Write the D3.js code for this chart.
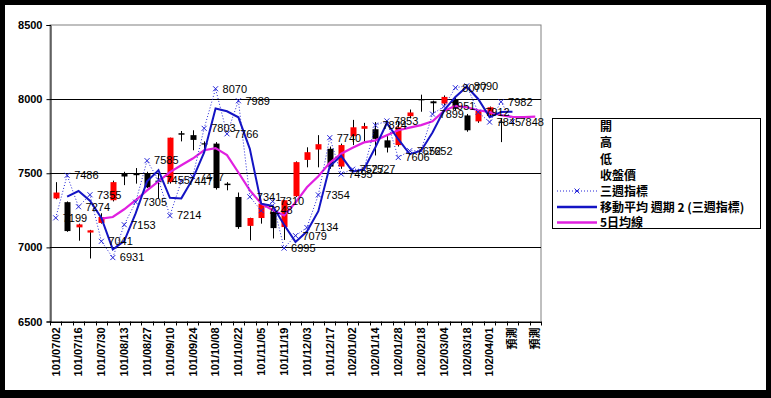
<!DOCTYPE html>
<html>
<head>
<meta charset="utf-8">
<script src="https://cdn.jsdelivr.net/npm/d3@7"></script>
<style>
body { margin:0; background:#000; }
text { font-family: "Liberation Sans", Arial, sans-serif; }
.lg { font-family: "Noto Sans CJK TC", "Noto Sans CJK SC", sans-serif; font-size:12px; }
</style>
</head>
<body>
<div id="chart"></div>
<script>
var categories = ["101/07/02","101/07/09","101/07/16","101/07/23","101/07/30","101/08/06","101/08/13","101/08/20","101/08/27","101/09/03",
  "101/09/10","101/09/17","101/09/24","101/10/01","101/10/08","101/10/15","101/10/22","101/10/29","101/11/05","101/11/12",
  "101/11/19","101/11/26","101/12/03","101/12/10","101/12/17","101/12/24","102/01/02","102/01/07","102/01/14","102/01/21",
  "102/01/28","102/02/04","102/02/18","102/02/25","102/03/04","102/03/11","102/03/18","102/03/25","102/04/01","102/04/08",
  "預測","預測","預測"];

var openV  = [7330,7305,7135,7100,7165,7318,7495,7495,7500,7450,7440,7770,7757,7702,7700,7430,7340,7145,7198,7240,
  7137,7345,7590,7660,7665,7545,7750,7800,7797,7722,7690,7885,8000,7985,7970,8000,7890,7850,7895,7848];
var highV  = [7440,7310,7160,7118,7230,7450,7510,7535,7510,7500,7740,7785,7790,7715,7710,7440,7370,7200,7305,7250,
  7320,7580,7675,7757,7680,7700,7860,7840,7845,7750,7850,7930,8030,7990,8025,8010,7900,7925,7950,7870];
var lowV   = [7325,7105,7045,6925,7160,7310,7420,7430,7400,7330,7430,7715,7655,7665,7390,7385,7125,7047,7160,7060,
  7050,7340,7540,7540,7530,7530,7690,7712,7620,7640,7680,7870,7915,7905,7960,7925,7780,7840,7880,7710];
var closeV = [7370,7110,7155,7115,7205,7440,7478,7493,7405,7445,7740,7760,7725,7698,7400,7420,7137,7198,7295,7130,
  7318,7575,7642,7696,7545,7690,7810,7818,7732,7673,7810,7910,7998,7972,8015,7935,7790,7920,7945,7845];

// 三週指標
var weekIdx = [7199,7486,7274,7355,7041,6931,7153,7305,7585,7455,7214,7447,7477,7803,8070,7766,7989,7341,7248,7310,
  6995,7079,7134,7354,7740,7495,7527,7527,7824,7853,7606,7652,7652,7899,7951,8077,8090,7912,7845,7982,7848];
// 移動平均 週期 2 (三週指標)
var ma2 = [null,7342.5,7380,7314.5,7198,6986,7042,7229,7445,7520,7334.5,7330.5,7462,7640,7936.5,7918,7877.5,7665,7294.5,7279,
  7152.5,7037,7106.5,7244,7547,7617.5,7511,7527,7675.5,7838.5,7729.5,7629,7652,7775.5,7925,8014,8083.5,8001,7878.5,7913.5,7915];
// 5日均線
var ma5 = [null,null,null,null,7194,7205,7257,7318,7385,7445,7508,7554,7599,7655,7670,7622,7505,7385,7295,7252,
  7215,7302,7405,7480,7570,7632,7672,7708,7722,7757,7790,7808,7825,7850,7920,7955,7945,7925,7912,7892,7880,7878,7882];

var yTicks = [6500,7000,7500,8000,8500];
var legendNames = ["開","高","低","收盤價","三週指標","移動平均  週期 2 (三週指標)","5日均線"];

var w = 771, h = 398;
var plot = {left:50, right:541, top:25, bottom:321.5};

var svg = d3.select("#chart").append("svg")
  .attr("width", w).attr("height", h);

svg.append("rect").attr("width", w).attr("height", h).attr("fill", "#000");
svg.append("rect").attr("x", 5).attr("y", 5).attr("width", 761).attr("height", 385).attr("fill", "#fff");

var x = d3.scaleBand()
  .domain(d3.range(categories.length))
  .range([plot.left, plot.right]);
var bw = x.bandwidth();
var cx = function(i){ return x(i) + bw/2; };

var y = d3.scaleLinear()
  .domain([6500, 8500])
  .range([plot.bottom, plot.top]);

// plot frame + grid
svg.append("rect")
  .attr("x", plot.left).attr("y", plot.top)
  .attr("width", plot.right - plot.left).attr("height", plot.bottom - plot.top)
  .attr("fill", "none").attr("stroke", "#808080");

svg.append("g")
  .selectAll("line")
  .data(yTicks.slice(1, 4))
  .enter()
  .append("line")
  .attr("x1", plot.left).attr("x2", plot.right)
  .attr("y1", function(d){ return Math.round(y(d)) + 0.5; })
  .attr("y2", function(d){ return Math.round(y(d)) + 0.5; })
  .attr("stroke", "#000");

// y axis
var yAxis = d3.axisLeft(y).tickValues(yTicks).tickSize(4).tickPadding(4).tickFormat(d3.format("d"));
var yg = svg.append("g")
  .attr("transform", "translate(" + (plot.left + 0.5) + ",0)")
  .call(yAxis);
yg.selectAll("text").style("font-size", "11px").attr("fill", "#000")
  .attr("font-family", "Liberation Sans").style("font-weight", "bold");

// x axis
var xAxis = d3.axisBottom(x).tickSize(0).tickFormat("");
var xg = svg.append("g")
  .attr("transform", "translate(0," + (plot.bottom + 0.5) + ")")
  .call(xAxis);
xg.select(".domain").attr("stroke", "#000");

var bounds = d3.range(categories.length + 1).map(function(i){
  return i < categories.length ? x(i) : plot.right;
});
svg.append("g")
  .selectAll("line")
  .data(bounds)
  .enter()
  .append("line")
  .attr("x1", function(d){ return Math.round(d) + 0.5; })
  .attr("x2", function(d){ return Math.round(d) + 0.5; })
  .attr("y1", plot.bottom).attr("y2", plot.bottom + 4)
  .attr("stroke", "#000");

svg.append("g")
  .selectAll("text")
  .data(d3.range(0, categories.length, 2))
  .enter()
  .append("text")
  .attr("transform", function(i){ return "translate(" + cx(i) + "," + (plot.bottom + 6) + ") rotate(-90)"; })
  .attr("text-anchor", "end")
  .attr("dy", "0.35em")
  .style("font-size", "11px")
  .style("font-weight", "bold")
  .style("font-family", function(i){ return categories[i] == "預測" ? "Noto Sans CJK TC" : "Liberation Sans"; })
  .text(function(i){ return categories[i]; });

// candlesticks
var candles = svg.append("g");
candles.selectAll("line")
  .data(d3.range(openV.length))
  .enter()
  .append("line")
  .attr("x1", function(i){ return Math.round(cx(i)) + 0.5; })
  .attr("x2", function(i){ return Math.round(cx(i)) + 0.5; })
  .attr("y1", function(i){ return y(highV[i]); })
  .attr("y2", function(i){ return y(lowV[i]); })
  .attr("stroke", "#000");

candles.selectAll("rect")
  .data(d3.range(openV.length))
  .enter()
  .append("rect")
  .attr("x", function(i){ return Math.round(cx(i)) - 2.5; })
  .attr("y", function(i){ return y(Math.max(openV[i], closeV[i])); })
  .attr("width", 6)
  .attr("height", function(i){ return Math.max(1.2, Math.abs(y(openV[i]) - y(closeV[i]))); })
  .attr("fill", function(i){ return closeV[i] >= openV[i] ? "#ff0000" : "#000"; });

// 5日均線
var line = d3.line()
  .defined(function(d){ return d != null; })
  .x(function(d, i){ return cx(i); })
  .y(function(d){ return y(d); });

svg.append("path")
  .datum(ma5)
  .attr("d", line)
  .attr("fill", "none")
  .attr("stroke", "#e020e0")
  .attr("stroke-width", 2.2);

// 三週指標 dotted
svg.append("path")
  .datum(weekIdx)
  .attr("d", line)
  .attr("fill", "none")
  .attr("stroke", "#2424d8")
  .attr("stroke-width", 1)
  .attr("stroke-dasharray", "1,2");

// moving average
svg.append("path")
  .datum(ma2)
  .attr("d", line)
  .attr("fill", "none")
  .attr("stroke", "#1414c4")
  .attr("stroke-width", 2);

// markers
var mk = svg.append("g").attr("stroke", "#2424d8").attr("stroke-width", 1);
weekIdx.forEach(function(v, i){
  var px = cx(i), py = y(v);
  mk.append("line").attr("x1", px-2.5).attr("y1", py-2.5).attr("x2", px+2.5).attr("y2", py+2.5);
  mk.append("line").attr("x1", px-2.5).attr("y1", py+2.5).attr("x2", px+2.5).attr("y2", py-2.5);
});

// data labels
svg.append("g")
  .selectAll("text")
  .data(weekIdx)
  .enter()
  .append("text")
  .attr("x", function(d, i){ return cx(i) + 7; })
  .attr("y", function(d){ return y(d); })
  .attr("dy", "0.35em")
  .style("font-size", "11px")
  .attr("fill", "#000")
  .text(function(d){ return d; });

// legend
var lg = svg.append("g").attr("transform", "translate(552,118)");
lg.append("rect")
  .attr("x", 0.5).attr("y", 0.5).attr("width", 208).attr("height", 110)
  .attr("fill", "#fff").attr("stroke", "#000");

var rowY = [8, 24.5, 41, 57.5, 73, 89, 104.5];
lg.selectAll("text.lg")
  .data(legendNames)
  .enter()
  .append("text")
  .attr("class", "lg")
  .attr("x", 48)
  .attr("y", function(d, i){ return rowY[i]; })
  .attr("dy", "0.38em")
  .style("font-weight", "bold")
  .text(function(d){ return d; });

lg.append("line").attr("x1", 5).attr("x2", 45).attr("y1", rowY[4]).attr("y2", rowY[4])
  .attr("stroke", "#2424d8").attr("stroke-dasharray", "1,2");
lg.append("line").attr("x1", 22.5).attr("y1", rowY[4]-2.5).attr("x2", 27.5).attr("y2", rowY[4]+2.5).attr("stroke", "#2424d8");
lg.append("line").attr("x1", 22.5).attr("y1", rowY[4]+2.5).attr("x2", 27.5).attr("y2", rowY[4]-2.5).attr("stroke", "#2424d8");
lg.append("line").attr("x1", 5).attr("x2", 45).attr("y1", rowY[5]).attr("y2", rowY[5])
  .attr("stroke", "#1414c4").attr("stroke-width", 2.5);
lg.append("line").attr("x1", 5).attr("x2", 45).attr("y1", rowY[6]).attr("y2", rowY[6])
  .attr("stroke", "#e020e0").attr("stroke-width", 2.5);
</script>
</body>
</html>
